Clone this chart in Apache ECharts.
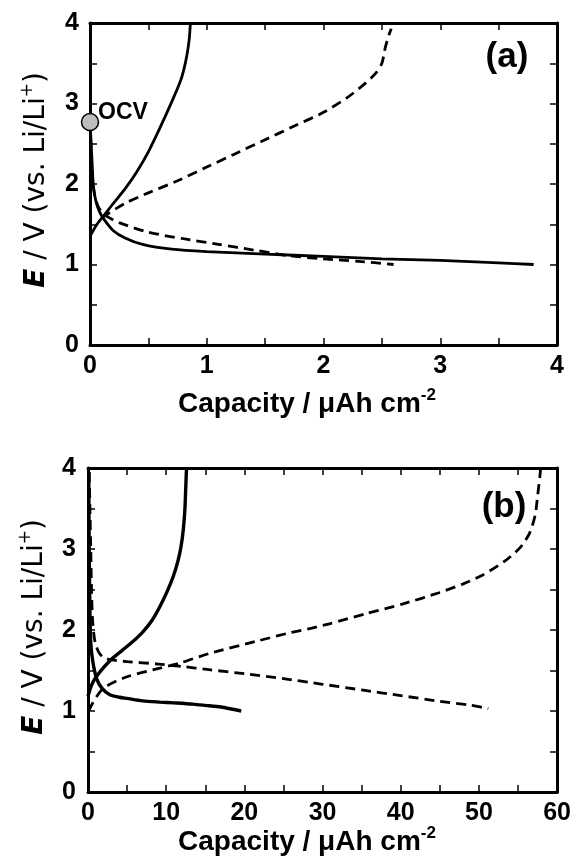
<!DOCTYPE html>
<html>
<head>
<meta charset="utf-8">
<script src="https://cdn.jsdelivr.net/npm/echarts@6/dist/echarts.min.js"></script>
<style>
html,body{margin:0;padding:0;background:#fff;}
#chart{width:574px;height:866px;}
</style>
</head>
<body>
<div id="chart"></div>
<script>
// ---------- Data (Capacity / uAh cm^-2 , E / V) ----------
// Panel (a)
const aXTicks = [0, 1, 2, 3, 4];
const aYTicks = [0, 1, 2, 3, 4];
const aOCV = [[0, 2.77]];
const aSolidDischarge = [[0,2.77],[0.01,2.5],[0.02,2.2],[0.03,1.96],[0.05,1.79],[0.08,1.66],[0.12,1.56],[0.2,1.42],[0.3,1.33],[0.45,1.25],[0.7,1.19],[1.0,1.16],[1.5,1.13],[2.0,1.10],[2.5,1.07],[3.0,1.05],[3.5,1.02],[3.8,1.0]];
const aSolidCharge = [[0,1.35],[0.06,1.5],[0.12,1.61],[0.2,1.76],[0.3,1.94],[0.4,2.15],[0.5,2.4],[0.6,2.7],[0.7,3.02],[0.77,3.26],[0.8,3.4],[0.83,3.6],[0.85,3.8],[0.86,4.0]];
const aDashedDischarge = [[0,2.77],[0.01,2.4],[0.025,2.02],[0.04,1.86],[0.07,1.72],[0.12,1.62],[0.25,1.52],[0.5,1.40],[0.8,1.32],[1.1,1.25],[1.4,1.18],[1.7,1.11],[2.0,1.07],[2.3,1.04],[2.6,1.0]];
const aDashedCharge = [[0.1,1.58],[0.3,1.76],[0.5,1.89],[0.75,2.04],[1.0,2.21],[1.25,2.38],[1.5,2.55],[1.75,2.72],[2.0,2.89],[2.2,3.07],[2.35,3.24],[2.45,3.38],[2.5,3.5],[2.53,3.7],[2.56,3.85],[2.58,3.93]];
// Panel (b)
const bXTicks = [0, 10, 20, 30, 40, 50, 60];
const bYTicks = [0, 1, 2, 3, 4];
const bSolidDischarge = [[0.1,3.95],[0.15,3.0],[0.25,2.2],[0.35,1.85],[0.6,1.62],[1.1,1.4],[1.8,1.28],[2.8,1.2],[4,1.17],[5,1.155],[7,1.125],[9.2,1.11],[11,1.1],[13.4,1.085],[15,1.07],[17,1.05],[19.6,1.0]];
const bSolidCharge = [[0,1.18],[0.3,1.28],[0.7,1.37],[1.5,1.48],[2.8,1.62],[4,1.72],[4.9,1.79],[6,1.88],[7.05,1.98],[8.2,2.12],[9.2,2.29],[10.1,2.47],[10.9,2.66],[11.5,2.85],[11.9,3.03],[12.2,3.25],[12.4,3.5],[12.5,3.75],[12.6,4.0]];
const bDashedDischarge = [[0.15,3.95],[0.25,3.5],[0.35,3.0],[0.45,2.5],[0.6,2.1],[0.9,1.85],[1.4,1.72],[2,1.66],[3,1.63],[5,1.61],[9,1.58],[12,1.55],[15.5,1.51],[20,1.46],[25,1.4],[30,1.33],[35,1.26],[40,1.19],[45,1.12],[49,1.07],[51.2,1.03]];
const bDashedCharge = [[0.1,1.0],[0.6,1.1],[1.95,1.28],[4.9,1.42],[9.2,1.53],[11.7,1.59],[15.5,1.71],[21.9,1.87],[26,1.97],[28.5,2.02],[31,2.08],[35.5,2.2],[40.2,2.32],[44.9,2.46],[48,2.57],[50.5,2.68],[53.3,2.85],[55.3,3.02],[56.5,3.2],[57.2,3.42],[57.5,3.65],[57.8,3.9],[57.9,4.0]];

// ---------- Chart ----------
const chart = echarts.init(document.getElementById('chart'), null, {renderer: 'canvas'});
const BLACK = '#000';
const ARIAL = '"Liberation Sans", Arial, sans-serif';
const tickFont = {fontFamily: ARIAL, fontWeight: 'bold', fontSize: 25, color: BLACK};

function mkAxis(gridIndex, position, ticks, showLabel, margin) {
  const min = ticks[0], max = ticks[ticks.length - 1];
  return {
    type: 'value', gridIndex: gridIndex, position: position,
    min: min, max: max, interval: ticks[1] - ticks[0],
    axisLine: {show: true, onZero: false, lineStyle: {color: BLACK, width: 3}},
    axisTick: {show: true, inside: true, length: 7, lineStyle: {color: BLACK, width: 1.5}},
    minorTick: {show: true, splitNumber: 2, length: 7, lineStyle: {color: BLACK, width: 1.5}},
    splitLine: {show: false}, minorSplitLine: {show: false},
    axisLabel: Object.assign({show: showLabel, margin: margin,
      formatter: function (v) { return ticks.indexOf(v) >= 0 ? String(v) : ''; }}, tickFont),
    z: 5
  };
}

function lineSeries(data, xi, yi, dashed, width) {
  return {
    type: 'line', data: data, xAxisIndex: xi, yAxisIndex: yi,
    showSymbol: false, smooth: 0.25, clip: false, animation: false,
    lineStyle: {color: BLACK, width: width, type: dashed ? [10, 6] : 'solid'},
    z: 3
  };
}

const ylabelRich = {
  e: {fontFamily: '"DejaVu Sans", sans-serif', fontWeight: 'bold', fontStyle: 'italic', fontSize: 28, lineHeight: 36, fill: BLACK},
  n: {fontFamily: '"DejaVu Sans", sans-serif', fontSize: 28, lineHeight: 36, fill: BLACK},
  s: {fontFamily: '"DejaVu Sans", sans-serif', fontSize: 17, lineHeight: 17, verticalAlign: 'top', fill: BLACK}
};
const titleRich = {
  n: {fontFamily: ARIAL, fontWeight: 'bold', fontSize: 28, lineHeight: 34, fill: BLACK},
  s: {fontFamily: ARIAL, fontWeight: 'bold', fontSize: 17, lineHeight: 17, verticalAlign: 'top', fill: BLACK}
};

function yLabel(x, y) {
  return {type: 'text', x: x, y: y, rotation: Math.PI / 2, z: 10,
    style: {text: '{e|E}{n| / V (vs. Li/Li}{s|+}{n|)}', rich: ylabelRich, align: 'center', verticalAlign: 'middle'}};
}
function xTitle(x, y) {
  return {type: 'text', x: x, y: y, z: 10,
    style: {text: '{n|Capacity / μAh cm}{s|-2}', rich: titleRich, align: 'center', verticalAlign: 'middle'}};
}
function plainText(txt, x, y, size, align) {
  return {type: 'text', x: x, y: y, z: 10,
    style: {text: txt, fontFamily: ARIAL, fontWeight: 'bold', fontSize: size, fill: BLACK, align: align, verticalAlign: 'middle'}};
}

const option = {
  animation: false,
  backgroundColor: '#fff',
  grid: [
    {left: 90, top: 23, width: 467, height: 322},
    {left: 88, top: 468, width: 471, height: 324}
  ],
  xAxis: [
    mkAxis(0, 'bottom', aXTicks, true, 9),
    mkAxis(0, 'top', aXTicks, false, 0),
    mkAxis(1, 'bottom', bXTicks, true, 9),
    mkAxis(1, 'top', bXTicks, false, 0)
  ],
  yAxis: [
    mkAxis(0, 'left', aYTicks, true, 11),
    mkAxis(0, 'right', aYTicks, false, 0),
    mkAxis(1, 'left', bYTicks, true, 12),
    mkAxis(1, 'right', bYTicks, false, 0)
  ],
  series: [
    lineSeries(aSolidDischarge, 0, 0, false, 2.8),
    lineSeries(aSolidCharge, 0, 0, false, 2.8),
    lineSeries(aDashedDischarge, 0, 0, true, 2.8),
    lineSeries(aDashedCharge, 0, 0, true, 2.8),
    {
      type: 'scatter', data: aOCV, xAxisIndex: 0, yAxisIndex: 0, clip: false,
      symbol: 'circle', symbolSize: 17, z: 8,
      itemStyle: {color: '#bdbdbd', borderColor: BLACK, borderWidth: 1.5, opacity: 1}
    },
    lineSeries(bSolidDischarge, 2, 2, false, 3.4),
    lineSeries(bSolidCharge, 2, 2, false, 3.4),
    lineSeries(bDashedDischarge, 2, 2, true, 2.8),
    lineSeries(bDashedCharge, 2, 2, true, 2.8)
  ],
  graphic: [
    yLabel(37, 180),
    yLabel(35, 627),
    xTitle(307, 404),
    xTitle(307, 842),
    plainText('OCV', 98, 113, 23, 'left'),
    plainText('(a)', 507, 57, 35, 'center'),
    plainText('(b)', 504, 507, 35, 'center')
  ]
};
chart.setOption(option);
</script>
</body>
</html>
